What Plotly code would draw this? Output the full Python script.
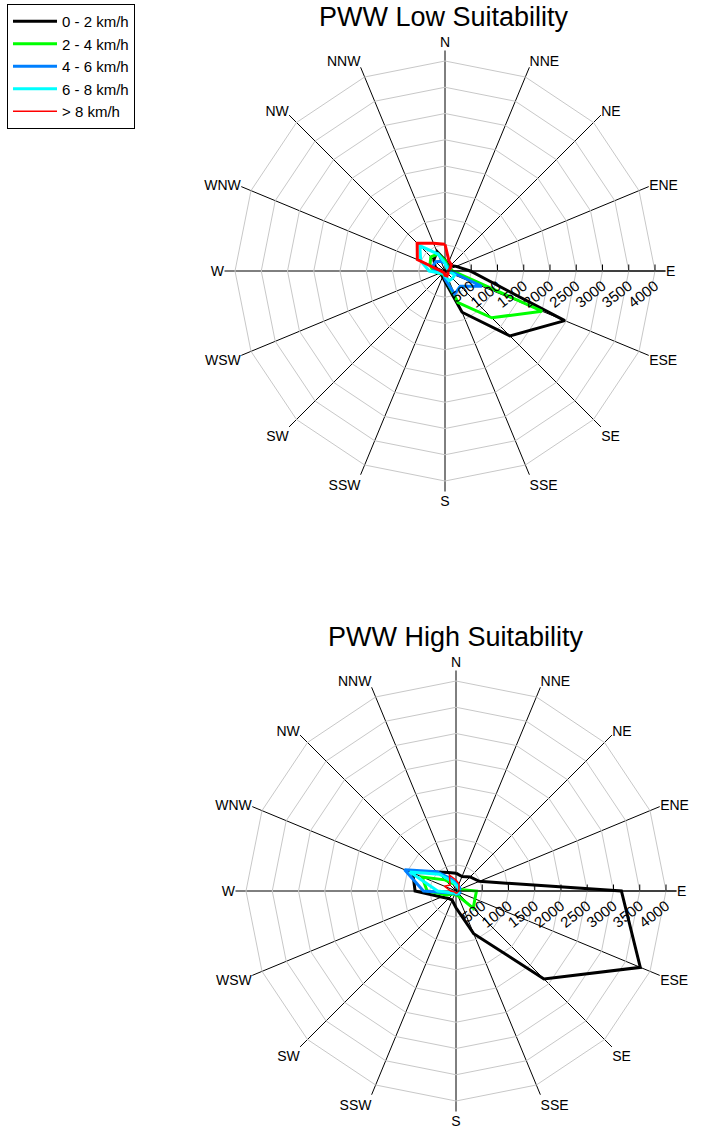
import plotly.graph_objects as go

# 16 compass sectors, clockwise from north
directions = ["N", "NNE", "NE", "ENE", "E", "ESE", "SE", "SSE",
              "S", "SSW", "SW", "WSW", "W", "WNW", "NW", "NNW"]

speed_classes = ["0 - 2 km/h", "2 - 4 km/h", "4 - 6 km/h", "6 - 8 km/h", "> 8 km/h"]
class_colors = ["#000000", "#00ff00", "#0080ff", "#00ffff", "#ff0000"]

radial_ticks = [500, 1000, 1500, 2000, 2500, 3000, 3500, 4000]

# Low-suitability site: frequency per direction for each speed class
low_0_2 = [210, 150, 150, 230, 480, 2470, 1750, 850, 200, 120, 100, 100, 120, 200, 300, 400]
low_2_4 = [200, 120, 100, 100, 150, 2000, 1260, 650, 130, 80, 80, 120, 230, 310, 380, 350]
low_4_6 = [150, 100, 80, 70, 90, 760, 410, 480, 150, 60, 60, 100, 200, 250, 250, 200]
low_6_8 = [150, 80, 60, 60, 80, 200, 200, 200, 100, 60, 60, 100, 300, 500, 680, 350]
low_8p = [510, 200, 170, 100, 60, 60, 80, 100, 80, 40, 40, 50, 80, 570, 750, 570]

# High-suitability site
high_0_2 = [340, 300, 380, 480, 3150, 3800, 2370, 880, 320, 190, 200, 300, 780, 890, 510, 380]
high_2_4 = [150, 100, 90, 80, 390, 390, 465, 100, 80, 60, 80, 200, 550, 700, 300, 150]
high_4_6 = [150, 100, 100, 80, 60, 80, 80, 60, 60, 50, 60, 100, 620, 1060, 520, 250]
high_6_8 = [120, 80, 70, 60, 50, 60, 60, 50, 50, 40, 50, 90, 350, 950, 450, 200]
high_8p = [210, 150, 80, 60, 50, 40, 40, 40, 40, 30, 30, 40, 100, 240, 160, 330]

low_series = [low_0_2, low_2_4, low_4_6, low_6_8, low_8p]
high_series = [high_0_2, high_2_4, high_4_6, high_6_8, high_8p]
low_widths = [3, 3, 3, 3, 3]
high_widths = [3, 3, 3, 3, 1.5]

FONT = "Arial, Liberation Sans, sans-serif"

fig = go.Figure()


def add_rose(series, widths, subplot, legend):
    for name, vals, color, w in zip(speed_classes, series, class_colors, widths):
        fig.add_trace(go.Scatterpolar(
            r=vals + vals[:1],
            theta=directions + directions[:1],
            mode="lines",
            line=dict(color=color, width=w),
            name=name,
            showlegend=legend,
            subplot=subplot,
        ))


add_rose(high_series, high_widths, "polar2", True)
add_rose(low_series, low_widths, "polar", False)


def polar_layout(domx, domy):
    return dict(
        domain=dict(x=domx, y=domy),
        bgcolor="white",
        angularaxis=dict(
            type="category",
            categoryarray=directions,
            rotation=90,
            direction="clockwise",
            showgrid=True,
            gridcolor="#000000",
            gridwidth=1,
            showline=False,
            ticks="",
            tickfont=dict(family=FONT, size=14, color="#000000"),
        ),
        radialaxis=dict(
            range=[0, 4200],
            angle=0,
            tickvals=radial_ticks,
            ticktext=[str(v) for v in radial_ticks],
            tickangle=-38,
            showline=True,
            linecolor="#000000",
            linewidth=1,
            ticks="inside",
            ticklen=6,
            tickcolor="#000000",
            showgrid=True,
            gridcolor="#c8c8c8",
            gridwidth=1,
            tickfont=dict(family=FONT, size=15, color="#000000"),
        ),
        gridshape="linear",
    )


W, H = 703, 1138
R = 220.5  # pixel radius of the full radial range


def domain(cx, cy):
    return ([(cx - R) / W, (cx + R) / W], [(H - cy - R) / H, (H - cy + R) / H])


dx1, dy1 = domain(445, 271)
dx2, dy2 = domain(456, 891)

fig.update_layout(
    width=W,
    height=H,
    margin=dict(l=0, r=0, t=0, b=0),
    paper_bgcolor="white",
    plot_bgcolor="white",
    font=dict(family=FONT, color="#000000"),
    polar=polar_layout(dx1, dy1),
    polar2=polar_layout(dx2, dy2),
    legend=dict(
        x=7 / W, y=1 - 4 / H, xanchor="left", yanchor="top",
        bordercolor="#000000", borderwidth=1, bgcolor="white",
        itemwidth=44,
        font=dict(family=FONT, size=15, color="#000000"),
    ),
    annotations=[
        dict(text="PWW Low Suitability", x=444 / W, y=1 - 17 / H, xref="paper", yref="paper",
             xanchor="center", yanchor="middle",
             showarrow=False, font=dict(family=FONT, size=27, color="#000000")),
        dict(text="PWW High Suitability", x=456 / W, y=1 - 637 / H, xref="paper", yref="paper",
             xanchor="center", yanchor="middle",
             showarrow=False, font=dict(family=FONT, size=27, color="#000000")),
    ],
)

fig.write_html("out.html")
